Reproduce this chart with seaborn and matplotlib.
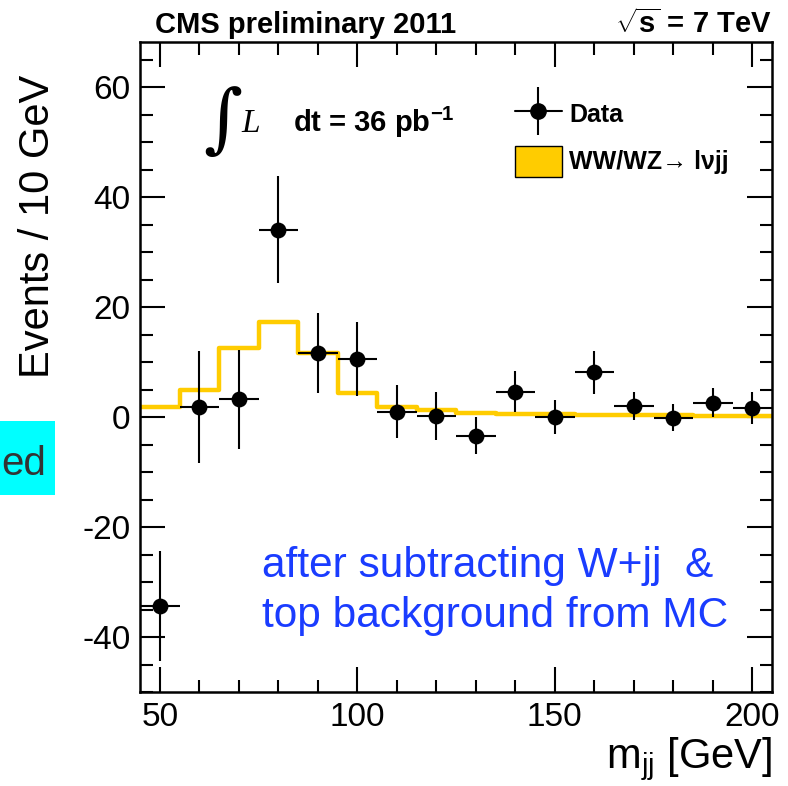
import numpy as np
import pandas as pd
import matplotlib
matplotlib.use("Agg")
import matplotlib.pyplot as plt
import seaborn as sns
from matplotlib.lines import Line2D
from matplotlib.patches import Patch, Rectangle
from matplotlib.ticker import MultipleLocator
from matplotlib.legend_handler import HandlerTuple

# ---- data ----
mjj_centers = [50, 60, 70, 80, 90, 100, 110, 120, 130, 140, 150, 160, 170, 180, 190, 200]
data_events = [-34.4, 1.9, 3.2, 34.1, 11.6, 10.6, 1.0, 0.2, -3.4, 4.6, 0.0, 8.1, 2.0, -0.1, 2.6, 1.6]
data_errors = [10.0, 10.2, 9.0, 9.7, 7.3, 6.7, 4.8, 4.4, 3.4, 3.7, 3.05, 4.0, 2.6, 2.45, 2.6, 2.9]
mc_wwwz = [1.8, 4.9, 12.5, 17.3, 11.6, 4.3, 1.8, 1.2, 0.8, 0.6, 0.5, 0.45, 0.35, 0.3, 0.25, 0.2]
bin_edges = [45, 55, 65, 75, 85, 95, 105, 115, 125, 135, 145, 155, 165, 175, 185, 195, 205]
x_major_ticks = [50, 100, 150, 200]
y_major_ticks = [-40, -20, 0, 20, 40, 60]

df = pd.DataFrame({"mjj": mjj_centers, "events": data_events,
                   "err": data_errors, "mc": mc_wwwz})

sns.set_theme(style="ticks")
plt.rcParams["font.family"] = ["Liberation Sans", "DejaVu Sans"]
plt.rcParams["mathtext.fontset"] = "custom"
plt.rcParams["mathtext.rm"] = "Liberation Sans"
plt.rcParams["mathtext.bf"] = "Liberation Sans:bold"
plt.rcParams["mathtext.it"] = "Liberation Sans:italic"
plt.rcParams["axes.unicode_minus"] = False
for k in ["text.color", "axes.labelcolor", "xtick.color", "ytick.color",
          "xtick.labelcolor", "ytick.labelcolor", "axes.edgecolor"]:
    plt.rcParams[k] = "black"

W, H = 788, 786
fig = plt.figure(figsize=(W / 100, H / 100), dpi=100)
ax = fig.add_axes([140 / W, 1 - 692 / H, 632 / W, 650 / H])

YELLOW = "#FFCC00"

# MC histogram (step)
sns.histplot(data=df, x="mjj", weights="mc", bins=bin_edges, element="step",
             fill=False, color=YELLOW, linewidth=3.2, ax=ax, zorder=2)

# Data error bars and points
ax.errorbar(df["mjj"], df["events"], yerr=df["err"], xerr=5, fmt="none",
            ecolor="black", elinewidth=1.5, capsize=0, zorder=3)
sns.scatterplot(data=df, x="mjj", y="events", color="black", s=130,
                edgecolor="black", linewidth=0, ax=ax, zorder=4)

ax.set_xlim(45, 205)
ax.set_ylim(-50, 68.2)
ax.set_xlabel("")
ax.set_ylabel("")
ax.set_xticks(x_major_ticks)
ax.set_yticks(y_major_ticks)
ax.xaxis.set_minor_locator(MultipleLocator(10))
ax.yaxis.set_minor_locator(MultipleLocator(5))
ax.tick_params(which="both", direction="in", top=True, right=True,
               width=1.5, color="black", labelcolor="black")
ax.tick_params(which="major", length=18, labelsize=24, pad=7)
ax.tick_params(which="minor", length=9)
for s in ax.spines.values():
    s.set_visible(True)
    s.set_linewidth(1.8)
    s.set_color("black")

# Legend
data_handle = (Line2D([], [], color="black", lw=1.5),
               Line2D([], [], color="black", marker="|", markersize=34,
                      markeredgewidth=1.5, linestyle="none"),
               Line2D([], [], color="black", marker="o", markersize=11,
                      linestyle="none"))
mc_handle = Patch(facecolor=YELLOW, edgecolor="black", linewidth=1.0)
leg = ax.legend([data_handle, mc_handle], ["Data", "WW/WZ\u2192 l\u03bdjj"],
                handler_map={tuple: HandlerTuple(ndivide=1, pad=0)},
                loc="upper left", bbox_to_anchor=(0.593, 0.913),
                frameon=False, borderpad=0, borderaxespad=0,
                prop={"weight": "bold", "size": 18},
                handlelength=1.88, handleheight=1.56, handletextpad=0.3,
                labelspacing=0.62)
for t in leg.get_texts():
    t.set_color("black")

# Texts
fig.text(155 / W, 1 - 33 / H, "CMS preliminary 2011", fontsize=21,
         fontweight="bold", ha="left", va="baseline")
fig.text(772 / W, 1 - 33 / H, r"$\mathbf{\sqrt{s}}$ = 7 TeV", fontsize=21,
         fontweight="bold", ha="right", va="baseline")

fig.text(203 / W, 1 - 143 / H, "\u222b", fontsize=54, family="DejaVu Serif",
         ha="left", va="baseline")
fig.text(241 / W, 1 - 132 / H, "L", fontsize=24, family="Liberation Serif",
         style="italic", ha="left", va="baseline")
fig.text(293 / W, 1 - 132 / H, r"dt = 36 pb$^{\mathbf{-1}}$", fontsize=21,
         fontweight="bold", ha="left", va="baseline")

ax.text((262 - 140) / 632, (692 - 577) / 650, "after subtracting W+jj  &",
        transform=ax.transAxes, fontsize=30.5, color="#1a3cff",
        ha="left", va="baseline")
ax.text((262 - 140) / 632, (692 - 627) / 650, "top background from MC",
        transform=ax.transAxes, fontsize=30.5, color="#1a3cff",
        ha="left", va="baseline")

fig.text(38 / W, 1 - 75 / H, "Events / 10 GeV", fontsize=30, rotation=90,
         ha="center", va="top")
fig.text(772 / W, 1 - 768 / H, r"m$_{\mathrm{jj}}$ [GeV]", fontsize=30,
         ha="right", va="baseline")

# cyan label fragment at left edge
fig.patches.append(Rectangle((0, 1 - 495 / H), 55 / W, 74 / H,
                             transform=fig.transFigure, facecolor="#00FFFF",
                             edgecolor="none", zorder=0))
fig.text(1 / W, 1 - 475 / H, "ed", fontsize=29, color="#333333",
         ha="left", va="baseline")

fig.savefig("out.png", dpi=100)
